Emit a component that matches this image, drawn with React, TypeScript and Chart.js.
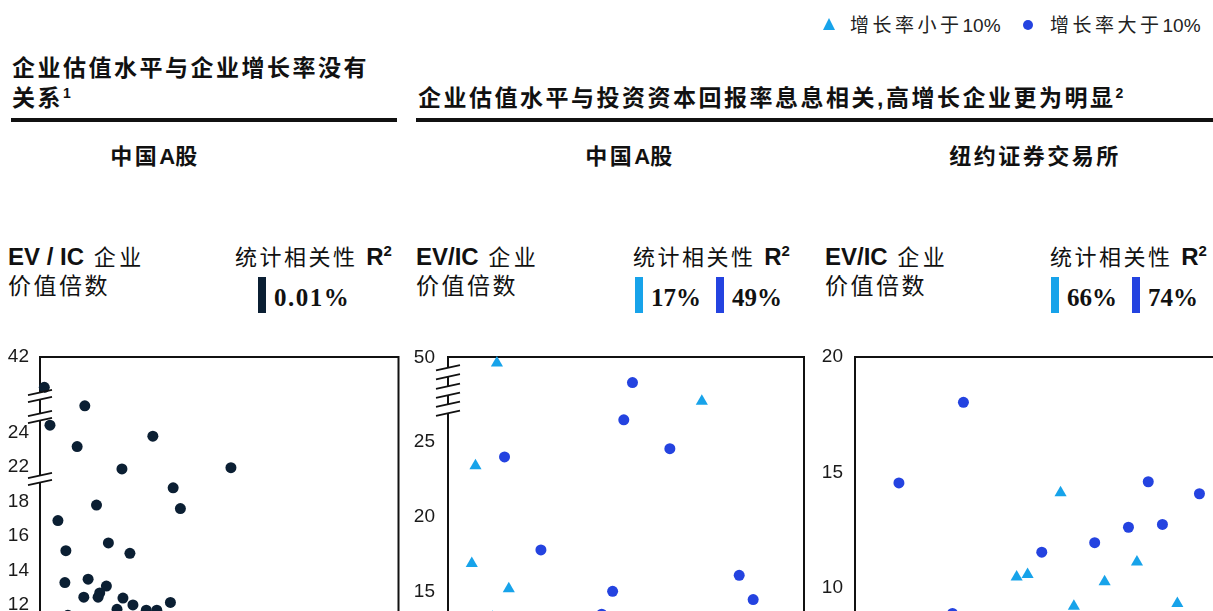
import React, { useEffect, useRef } from 'react';
import { Chart, registerables } from 'chart.js';

Chart.register(...registerables);

const SANS = '"Liberation Sans", "Noto Sans CJK SC", Arial, sans-serif';
const SERIF = '"Liberation Serif", "DejaVu Serif", "Noto Sans CJK SC", serif';

// ================= DATA =================
// Panel 1 – 中国A股 (EV/IC vs. growth, all companies)
const aGrowthX = [0.6, 6.25, 1.39, 5.18, 15.74, 11.43, 26.63, 18.57, 19.58, 7.88, 2.5, 9.54, 3.61, 12.54, 3.47, 6.71, 9.26, 8.33, 8.1, 6.11, 11.57, 12.96, 10.74, 14.82, 16.29, 18.19, 3.89];
const aGrowthEvIc = [34.8, 30.4, 25.8, 23.2, 23.8, 21.8, 21.95, 19.6, 17.6, 17.8, 16.9, 15.6, 15.15, 15.0, 13.3, 13.5, 13.1, 12.7, 12.45, 12.45, 12.4, 12.0, 11.75, 11.7, 11.7, 12.15, 11.4];
const aGrowthTicks = [12, 14, 16, 18, 22, 24, 42];
// broken axis: real value -> display position
const aGrowthKnotValues = [0, 18, 22, 24, 42, 60];
const aGrowthKnotDisplay = [-12, 6, 8, 10, 14.4, 18.8];
const aGrowthBreakMarks = [12.14, 10.92, 7.32];

// Panel 2 – 中国A股 (EV/IC vs. ROIC)
const aRoicLowX = [6.87, 3.86, 35.65, 3.34, 8.54, 6.27];
const aRoicLowEvIc = [48.4, 23.4, 37.0, 16.87, 15.2, 13.3];
const aRoicHighX = [25.91, 24.69, 7.94, 31.16, 13.05, 23.12, 40.9, 42.86, 21.59];
const aRoicHighEvIc = [42.6, 31.5, 23.98, 24.53, 17.78, 15.02, 16.09, 14.47, 13.5];
const aRoicTicks = [15, 20, 25, 50];
const aRoicKnotValues = [0, 25, 50, 75];
const aRoicKnotDisplay = [0, 25, 30.6, 36.2];
const aRoicBreakMarks = [29.63, 28.4, 27.2];

// Panel 3 – 纽约证券交易所 (EV/IC vs. ROIC)
const nyseLowX = [28.55, 39.16, 22.45, 23.97, 34.67, 44.77, 30.4];
const nyseLowEvIc = [14.12, 11.13, 10.48, 10.58, 10.27, 9.33, 9.21];
const nyseHighX = [15.06, 6.1, 40.73, 47.84, 37.98, 42.7, 33.29, 25.94, 13.54];
const nyseHighEvIc = [18.04, 14.55, 14.6, 14.08, 12.63, 12.75, 11.96, 11.55, 8.9];
const nyseTicks = [10, 15, 20];
const nyseKnotValues = [0, 100];
const nyseKnotDisplay = [0, 100];

// R² values
const r2Panel1 = ['0.01%'];
const r2Panel2 = ['17%', '49%'];
const r2Panel3 = ['66%', '74%'];

const NAVY = '#0b1f33';
const LIGHT = '#17a3ea';
const BLUE = '#2443e0';

function makeMap(vals: number[], disp: number[]) {
  return (v: number) => {
    for (let i = 0; i < vals.length - 1; i++) {
      if (v <= vals[i + 1] || i === vals.length - 2) {
        const t = (v - vals[i]) / (vals[i + 1] - vals[i]);
        return disp[i] + t * (disp[i + 1] - disp[i]);
      }
    }
    return v;
  };
}

type DS = { xs: number[]; ys: number[]; style: string; color: string; radius: number };
type PanelCfg = {
  left: number; top: number; width: number; height: number;
  axisWidth: number; padTop: number; padRight: number; padBottom: number;
  ppu: number; yMaxValue: number; xMax: number; tickPadding: number;
  ticks: number[]; knotV: number[]; knotD: number[];
  breaks: number[]; breakGap: number;
  datasets: DS[];
};

function Panel({ cfg }: { cfg: PanelCfg }) {
  const ref = useRef<HTMLCanvasElement | null>(null);
  useEffect(() => {
    if (!ref.current) return;
    const map = makeMap(cfg.knotV, cfg.knotD);
    const yMax = map(cfg.yMaxValue);
    const areaH = cfg.height - cfg.padTop - cfg.padBottom;
    const yMin = yMax - areaH / cfg.ppu;
    const labelMap = new Map<number, string>();
    cfg.ticks.forEach((t) => labelMap.set(Math.round(map(t) * 1000), String(t)));

    const framePlugin = {
      id: 'frameBreaks',
      beforeDatasetsDraw(chart: any) {
        const { ctx, chartArea: a } = chart;
        ctx.save();
        ctx.strokeStyle = '#111';
        ctx.lineWidth = 2;
        ctx.strokeRect(a.left, a.top, a.right - a.left, a.bottom - a.top);
        ctx.restore();
      },
      afterDatasetsDraw(chart: any) {
        const { ctx, chartArea: a, scales } = chart;
        const ys = scales.y;
        cfg.breaks.forEach((d) => {
          const py = ys.getPixelForValue(d);
          const x0 = a.left - 12, x1 = a.left + 12, rise = 2.6;
          const t = py - cfg.breakGap / 2, b = py + cfg.breakGap / 2;
          ctx.save();
          ctx.fillStyle = '#fff';
          ctx.beginPath();
          ctx.moveTo(a.left - 4, t + rise * 0.35);
          ctx.lineTo(a.left + 4, t - rise * 0.35);
          ctx.lineTo(a.left + 4, b - rise * 0.35);
          ctx.lineTo(a.left - 4, b + rise * 0.35);
          ctx.closePath();
          ctx.fill();
          ctx.strokeStyle = '#111';
          ctx.lineWidth = 1.8;
          ctx.beginPath();
          ctx.moveTo(x0, t + rise); ctx.lineTo(x1, t - rise);
          ctx.moveTo(x0, b + rise); ctx.lineTo(x1, b - rise);
          ctx.stroke();
          ctx.restore();
        });
      },
    };

    const chart = new Chart(ref.current, {
      type: 'scatter',
      data: {
        datasets: cfg.datasets.map((d) => ({
          data: d.xs.map((x, i) => ({ x, y: map(d.ys[i]) })),
          pointStyle: d.style as any,
          pointRadius: d.radius,
          pointHoverRadius: d.radius,
          backgroundColor: d.color,
          borderColor: d.color,
          borderWidth: 0,
          clip: false as any,
        })),
      },
      options: {
        responsive: false,
        animation: false,
        events: [],
        layout: { padding: { top: cfg.padTop, right: cfg.padRight, bottom: cfg.padBottom, left: 0 } },
        plugins: { legend: { display: false }, tooltip: { enabled: false } },
        scales: {
          x: { type: 'linear', display: false, min: 0, max: cfg.xMax },
          y: {
            type: 'linear',
            min: yMin,
            max: yMax,
            afterFit: (s: any) => { s.width = cfg.axisWidth; },
            afterBuildTicks: (s: any) => { s.ticks = cfg.ticks.map((t) => ({ value: map(t) })); },
            grid: { display: false, drawTicks: false },
            border: { display: false },
            ticks: {
              autoSkip: false,
              padding: cfg.tickPadding,
              color: '#1a1a1a',
              font: { family: SANS, size: 19 },
              callback: (v: any) => labelMap.get(Math.round(Number(v) * 1000)) ?? '',
            },
          },
        },
      },
      plugins: [framePlugin as any],
    });
    return () => chart.destroy();
  }, [cfg]);
  return (
    <canvas
      ref={ref}
      width={cfg.width}
      height={cfg.height}
      style={{ position: 'absolute', left: cfg.left, top: cfg.top, width: cfg.width, height: cfg.height }}
    />
  );
}

const panel1: PanelCfg = {
  left: 0, top: 330, width: 404, height: 420, axisWidth: 40, padTop: 27, padRight: 4, padBottom: 32,
  ppu: 17.22, yMaxValue: 42, xMax: 50, tickPadding: 11,
  ticks: aGrowthTicks, knotV: aGrowthKnotValues, knotD: aGrowthKnotDisplay,
  breaks: aGrowthBreakMarks, breakGap: 7,
  datasets: [{ xs: aGrowthX, ys: aGrowthEvIc, style: 'circle', color: NAVY, radius: 5.5 }],
};

const panel2: PanelCfg = {
  left: 410, top: 330, width: 401, height: 420, axisWidth: 38, padTop: 27, padRight: 4, padBottom: 32,
  ppu: 15, yMaxValue: 50.2, xMax: 50, tickPadding: 13,
  ticks: aRoicTicks, knotV: aRoicKnotValues, knotD: aRoicKnotDisplay,
  breaks: aRoicBreakMarks, breakGap: 9,
  datasets: [
    { xs: aRoicLowX, ys: aRoicLowEvIc, style: 'triangle', color: LIGHT, radius: 7 },
    { xs: aRoicHighX, ys: aRoicHighEvIc, style: 'circle', color: BLUE, radius: 5.5 },
  ],
};

const panel3: PanelCfg = {
  left: 815, top: 330, width: 407, height: 420, axisWidth: 40, padTop: 27, padRight: 4, padBottom: 32,
  ppu: 23.1, yMaxValue: 20, xMax: 50, tickPadding: 12,
  ticks: nyseTicks, knotV: nyseKnotValues, knotD: nyseKnotDisplay,
  breaks: [], breakGap: 0,
  datasets: [
    { xs: nyseLowX, ys: nyseLowEvIc, style: 'triangle', color: LIGHT, radius: 7 },
    { xs: nyseHighX, ys: nyseHighEvIc, style: 'circle', color: BLUE, radius: 5.5 },
  ],
};

const abs = (left: number, top: number, extra: React.CSSProperties = {}): React.CSSProperties => ({
  position: 'absolute', left, top, whiteSpace: 'nowrap', ...extra,
});

const titleStyle: React.CSSProperties = {
  fontFamily: SANS, fontSize: 23, lineHeight: '23px', fontWeight: 700, letterSpacing: 2.5, color: '#111',
};
const subStyle: React.CSSProperties = {
  fontFamily: SANS, fontSize: 22, lineHeight: '22px', fontWeight: 700, letterSpacing: 2.5, color: '#111', textAlign: 'center', width: 240,
};
const sup: React.CSSProperties = { fontSize: 14, position: 'relative', top: -8, letterSpacing: 0, fontFamily: SANS, fontWeight: 700 };

function Header({ left, rLeft, bars }: { left: number; rLeft: number; bars: { x: number; color: string; label: string; spacing: number }[] }) {
  return (
    <>
      <div style={abs(left, 245, { fontFamily: SANS, fontSize: 22, lineHeight: '24px', color: '#111' })}>
        <span style={{ fontWeight: 700, fontSize: 24 }}>{left < 100 ? 'EV / IC' : 'EV/IC'}</span>
        <span style={{ letterSpacing: 3.5 }}> 企业</span>
      </div>
      <div style={abs(left, 275, { fontFamily: SANS, fontSize: 23, lineHeight: '23px', letterSpacing: 2.5, color: '#111' })}>价值倍数</div>
      <div style={abs(rLeft, 245, { fontFamily: SANS, fontSize: 22, lineHeight: '24px', letterSpacing: 2.5, color: '#111' })}>
        统计相关性 <span style={{ fontWeight: 700, fontSize: 24, letterSpacing: 0 }}>R</span>
        <span style={{ ...sup, fontSize: 15, top: -9 }}>2</span>
      </div>
      {bars.map((b, i) => (
        <React.Fragment key={i}>
          <div style={abs(b.x, 277, { width: 8, height: 36, background: b.color })} />
          <div style={abs(b.x + 16, 285, { fontFamily: SERIF, fontWeight: 700, fontSize: 25, lineHeight: '25px', letterSpacing: b.spacing, color: '#111' })}>{b.label}</div>
        </React.Fragment>
      ))}
    </>
  );
}

export default function App() {
  return (
    <div style={{ position: 'absolute', left: 0, top: 0, width: 1213, height: 611, overflow: 'hidden', background: '#fff' }}>
      {/* legend */}
      <div style={abs(823, 18, { width: 0, height: 0, borderLeft: '6.5px solid transparent', borderRight: '6.5px solid transparent', borderBottom: `12px solid ${LIGHT}` })} />
      <div style={abs(850, 16, { fontFamily: SANS, fontSize: 19, lineHeight: '19px', color: '#222' })}>
        <span style={{ letterSpacing: 3.5 }}>增长率小于</span>10%
      </div>
      <div style={abs(1023, 20, { width: 10, height: 10, borderRadius: 5, background: BLUE })} />
      <div style={abs(1050, 16, { fontFamily: SANS, fontSize: 19, lineHeight: '19px', color: '#222' })}>
        <span style={{ letterSpacing: 3.5 }}>增长率大于</span>10%
      </div>

      {/* titles */}
      <div style={abs(12, 57, titleStyle)}>企业估值水平与企业增长率没有</div>
      <div style={abs(12, 87, titleStyle)}>关系<span style={sup}>1</span></div>
      <div style={abs(418, 87, titleStyle)}>企业估值水平与投资资本回报率息息相关,高增长企业更为明显<span style={sup}>2</span></div>
      <div style={abs(11, 118, { width: 386, height: 4, background: '#111' })} />
      <div style={abs(416, 118, { width: 800, height: 4, background: '#111' })} />

      {/* sub headers */}
      <div style={abs(35, 146, subStyle)}>中国<span style={{ letterSpacing: 0 }}>A</span>股</div>
      <div style={abs(510, 146, subStyle)}>中国<span style={{ letterSpacing: 0 }}>A</span>股</div>
      <div style={abs(915, 146, subStyle)}>纽约证券交易所</div>

      {/* panel headers */}
      <Header left={8} rLeft={235} bars={[{ x: 258, color: NAVY, label: r2Panel1[0], spacing: 1.5 }]} />
      <Header left={416} rLeft={633} bars={[{ x: 635, color: LIGHT, label: r2Panel2[0], spacing: 0 }, { x: 716, color: BLUE, label: r2Panel2[1], spacing: 0 }]} />
      <Header left={825} rLeft={1050} bars={[{ x: 1051, color: LIGHT, label: r2Panel3[0], spacing: 0 }, { x: 1132, color: BLUE, label: r2Panel3[1], spacing: 0 }]} />

      <Panel cfg={panel1} />
      <Panel cfg={panel2} />
      <Panel cfg={panel3} />
    </div>
  );
}
